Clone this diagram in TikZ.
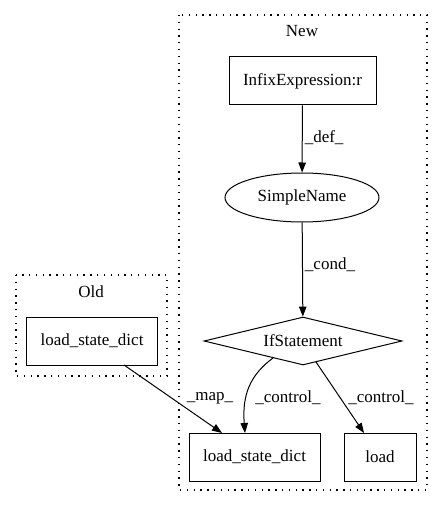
\documentclass[tikz,border=0pt]{standalone}
\usepackage{fontspec}
\setmainfont{Liberation Serif}
\usetikzlibrary{shapes.geometric,arrows.meta}
\begin{document}
\begin{tikzpicture}[x=1bp,y=-1bp,
  every node/.style={font=\fontsize{17bp}{19bp}\selectfont, inner sep=0pt},
  box/.style={draw, line width=1bp, minimum height=48bp},
  cluster/.style={draw, line width=1.3bp, dash pattern=on 1.3bp off 5.5bp},
  edge/.style={draw, line width=1bp, -{Triangle[length=10bp,width=7.5bp]}},
  elabel/.style={font=\fontsize{17bp}{19bp}\selectfont}]
\useasboundingbox (0,0) rectangle (443,508);
% clusters
\draw[cluster] (179,15) rectangle (427,490);
\node (newlbl) at (302,31) {New};
\draw[cluster] (16,275) rectangle (167,376);
\node (oldlbl) at (91,292) {Old};
% nodes
\node[box, minimum width=147bp] (infix) at (302.5,81) {InfixExpression:r};
\node[draw, ellipse, line width=1bp, minimum width=154bp, minimum height=49bp] (simple) at (302,197.5) {SimpleName};
\node[draw, diamond, aspect=4.1, line width=1bp, minimum width=198bp, minimum height=48bp] (ifst) at (303,341) {IfStatement};
\node[box, minimum width=130bp] (oldlsd) at (92,341) {load\_state\_dict};
\node[box, minimum width=131bp] (newlsd) at (254.5,457) {load\_state\_dict};
\node[box, minimum width=72bp] (load) at (380,457) {load};
% edges
\draw[edge] (infix) -- node[elabel, right=2bp, pos=0.48] {\_def\_} (simple);
\draw[edge] (simple) -- node[elabel, right=2bp, pos=0.45] {\_cond\_} (ifst);
\coordinate (o1) at (124,365);
\coordinate (n1) at (222,433);
\draw[edge] (o1) -- (n1);
\node[elabel] (maplbl) at (210,398) {\_map\_};
\coordinate (c1) at (273,358);
\coordinate (c2) at (245,433);
\draw[edge] (c1) .. controls (250,375) and (242,395) .. (c2);
\node[elabel] (ctl1) at (288,398) {\_control\_};
\coordinate (c3) at (316,362);
\coordinate (c4) at (364,433);
\draw[edge] (c3) -- (c4);
\node[elabel] (ctl2) at (381,398) {\_control\_};
\end{tikzpicture}
\end{document}
